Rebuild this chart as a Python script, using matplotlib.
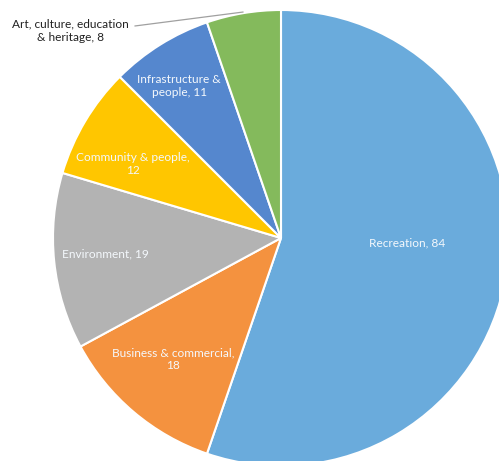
import matplotlib.pyplot as plt

categories = ["Recreation", "Business & commercial", "Environment",
              "Community & people", "Infrastructure & people",
              "Art, culture, education & heritage"]
values = [84, 18, 19, 12, 11, 8]
label_text = ["Recreation, 84", "Business & commercial,\n18", "Environment, 19",
              "Community & people,\n12", "Infrastructure &\npeople, 11",
              "Art, culture, education\n& heritage, 8"]
colors = ["#6aabdc", "#f4923f", "#b3b3b3", "#ffc600", "#5587ce", "#84ba5c"]

# label spots in pie units (radius 1)
label_pos = [(0.553, -0.022), (-0.474, -0.531), (-0.772, -0.070),
             (-0.649, 0.325), (-0.447, 0.667), (-0.925, 0.908)]

plt.rcParams['font.family'] = ['Lato', 'DejaVu Sans']

fig = plt.figure(figsize=(4.99, 4.61), dpi=100)
ax = fig.add_axes([0, 0, 1, 1])
ax.pie(values, colors=colors, startangle=90, counterclock=False, radius=1,
       wedgeprops=dict(edgecolor="white", linewidth=1.5))

for i, (txt, (x, y)) in enumerate(zip(label_text, label_pos)):
    col = "#f4f8fc" if i < 5 else "#222222"
    ax.text(x, y, txt, color=col, fontsize=8.6, ha="center", va="center",
            linespacing=1.25)

# leader line for the outside label
ax.plot([-0.64, -0.167], [0.93, 0.991], color="#a0a0a0", linewidth=0.9)

ax.set_aspect("equal")
ax.set_xlim(-281 / 228, (499 - 281) / 228)
ax.set_ylim((238 - 461) / 228, 238 / 228)
ax.axis("off")

fig.savefig("out.png", dpi=100)
